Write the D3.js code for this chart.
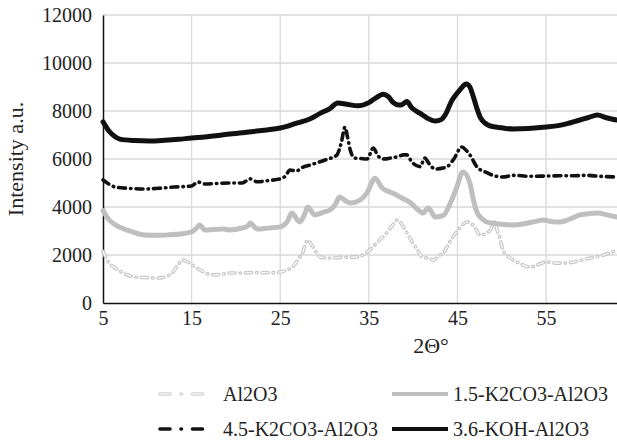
<!DOCTYPE html>
<html>
<head>
<meta charset="utf-8">
<script src="https://cdn.jsdelivr.net/npm/d3@7/dist/d3.min.js"></script>
<style>
  body { margin: 0; background: #fff; }
  text { font-family: "Liberation Serif", "Times New Roman", serif; fill: #222; }
</style>
</head>
<body>
<div id="chart"></div>
<script>
// Data (2θ in degrees, intensity in a.u.)
const xTicks = [5, 15, 25, 35, 45, 55];
const yTicks = [0, 2000, 4000, 6000, 8000, 10000, 12000];

const al2o3 = [
    [5, 2150], [5.6, 1710], [6.4, 1450], [7.3, 1250], [8.6, 1080], [9.8, 1060], [11.2, 1040], [12.1, 1100],
    [12.8, 1250], [13.4, 1550], [14.0, 1790], [14.6, 1700], [15.4, 1500], [16.3, 1300], [17.3, 1170],
    [18.5, 1200], [19.3, 1250], [20.7, 1250], [22.0, 1270], [23.5, 1260], [25, 1290], [25.8, 1380],
    [26.4, 1500], [27.0, 1800], [27.5, 2080], [28.1, 2625], [28.4, 2500], [28.7, 2330], [29.1, 2100],
    [29.5, 1920], [30.6, 1875], [31.8, 1900], [32.8, 1910], [33.7, 1920], [34.4, 2020], [35.1, 2210],
    [36.0, 2550], [37.1, 2960], [37.7, 3250], [38.2, 3460], [38.9, 3170], [39.4, 2850], [39.9, 2540],
    [40.5, 2200], [41.0, 1920], [41.9, 1850], [42.3, 1790], [43.0, 2000], [43.4, 2080], [44.2, 2600],
    [45.0, 3000], [46.1, 3375], [46.6, 3300], [47.0, 3125], [47.6, 2830], [48.2, 2900], [48.7, 3040],
    [49.2, 3375], [49.5, 3000], [49.8, 2710], [50.1, 2210], [50.7, 1950], [51.3, 1790], [52.2, 1620],
    [53.2, 1500], [54.1, 1600], [55.1, 1710], [56.2, 1660], [57.4, 1670], [58.7, 1760], [60.0, 1875],
    [61.5, 2000], [63, 2200]
];

const k2co3_15 = [
    [5, 3850], [5.6, 3500], [6.3, 3280], [7.1, 3125], [8.4, 2950], [9.7, 2830], [11.0, 2820],
    [12.4, 2840], [13.7, 2875], [15.0, 2960], [15.5, 3100], [15.9, 3250], [16.5, 3040], [17.5, 3060],
    [18.6, 3080], [19.3, 3040], [20.7, 3125], [21.3, 3200], [21.6, 3330], [22.4, 3080], [23.6, 3120],
    [25, 3170], [25.8, 3400], [26.3, 3750], [27.2, 3375], [27.7, 3650], [28.1, 4000], [28.9, 3670],
    [29.8, 3780], [30.6, 3875], [31.2, 4100], [31.7, 4420], [32.4, 4250], [32.9, 4170], [34.0, 4290],
    [34.8, 4600], [35.7, 5200], [36.5, 4790], [37.2, 4650], [37.7, 4580], [38.5, 4420], [39.1, 4300],
    [39.6, 4200], [40.5, 3900], [41.1, 3750], [41.7, 3960], [42.5, 3580], [43.4, 3650], [44.2, 4170],
    [44.9, 4800], [45.6, 5460], [46.4, 5000], [46.8, 4300], [47.2, 3790], [47.8, 3500], [48.3, 3375],
    [49.5, 3300], [51.3, 3250], [52.5, 3300], [53.6, 3380], [54.7, 3460], [55.5, 3400], [56.6, 3375],
    [57.7, 3500], [58.8, 3670], [59.8, 3720], [60.8, 3750], [62.0, 3660], [63, 3580]
];

const k2co3_45 = [
    [5, 5125], [5.7, 4950], [6.4, 4830], [7.8, 4780], [9.7, 4750], [11.3, 4780], [13.0, 4830],
    [15.0, 4875], [15.7, 5040], [16.5, 4960], [17.8, 4980], [19.3, 5000], [20.7, 5000], [21.6, 5170],
    [22.4, 5050], [23.6, 5100], [25, 5170], [25.6, 5300], [26.1, 5540], [26.8, 5500], [27.5, 5650],
    [28.4, 5750], [29.2, 5850], [30.0, 5950], [30.8, 6050], [31.4, 6170], [31.9, 6700], [32.3, 7330],
    [32.6, 6900], [32.9, 6375], [33.4, 6040], [34.1, 6020], [34.8, 6000], [35.5, 6460], [36.0, 6150],
    [36.6, 6000], [37.6, 6050], [38.3, 6100], [38.9, 6170], [39.3, 6170], [39.8, 5900], [40.8, 5680],
    [41.3, 6040], [41.8, 5800], [42.5, 5580], [43.3, 5620], [43.8, 5670], [44.5, 5950], [45.5, 6500],
    [46.0, 6350], [46.4, 6170], [47.2, 5670], [48.2, 5450], [49.0, 5320], [50.0, 5250], [51.5, 5320],
    [53.0, 5280], [55.0, 5290], [56.5, 5300], [58.0, 5300], [59.5, 5320], [61.0, 5280], [63, 5250]
];

const koh_36 = [
    [5, 7550], [5.6, 7200], [6.3, 6950], [6.9, 6830], [8.5, 6770], [10.3, 6750], [12.0, 6780],
    [13.5, 6820], [15.0, 6875], [16.5, 6920], [18.0, 6980], [19.3, 7040], [20.7, 7090], [22.0, 7150],
    [23.5, 7210], [25, 7290], [26.1, 7400], [27.2, 7530], [28.4, 7680], [29.5, 7900], [30.6, 8100],
    [31.5, 8330], [32.5, 8280], [33.8, 8220], [35.0, 8350], [35.8, 8550], [36.6, 8700], [37.2, 8600],
    [37.7, 8370], [38.4, 8250], [38.7, 8260], [39.3, 8400], [39.8, 8150], [40.8, 7900], [41.6, 7700],
    [42.5, 7580], [43.2, 7650], [43.6, 7830], [44.4, 8460], [45.2, 8850], [46.0, 9125], [46.4, 9000],
    [46.8, 8580], [47.2, 8100], [47.6, 7710], [48.1, 7500], [48.7, 7375], [50.0, 7300], [51.3, 7250],
    [53.0, 7270], [55.0, 7330], [56.8, 7420], [58.8, 7625], [59.8, 7730], [60.8, 7830], [61.8, 7720],
    [63, 7625]
];

const seriesNames = ["Al2O3", "1.5-K2CO3-Al2O3", "4.5-K2CO3-Al2O3", "3.6-KOH-Al2O3"];
const seriesData = [al2o3, k2co3_15, k2co3_45, koh_36];

// Line styles per series (same order as names)
const styles = [
    { color: "#c6c6c6", width: 3.6, dash: "6,5,0.5,5", hollow: true },
    { color: "#bfbfbf", width: 5, dash: null, hollow: false },
    { color: "#111", width: 3.6, dash: "7,5,0.5,5", hollow: false },
    { color: "#111", width: 5, dash: null, hollow: false }
];

const width = 617, height = 442;
const margin = { top: 15, right: 0, bottom: 139, left: 103 };

const svg = d3.select("#chart")
    .append("svg")
    .attr("width", width)
    .attr("height", height);

const x = d3.scaleLinear().domain([5, 63]).range([margin.left, width - margin.right]);
const y = d3.scaleLinear().domain([0, 12000]).range([height - margin.bottom, margin.top]);

// Grid lines
svg.append("g")
    .selectAll("line")
    .data(yTicks.filter(d => d > 0))
    .enter()
    .append("line")
    .attr("x1", x(5))
    .attr("x2", width)
    .attr("y1", d => y(d))
    .attr("y2", d => y(d))
    .attr("stroke", "#d9d9d9")
    .attr("stroke-width", 1.3);

svg.append("g")
    .selectAll("line")
    .data(xTicks.filter(d => d > 5))
    .enter()
    .append("line")
    .attr("x1", d => x(d))
    .attr("x2", d => x(d))
    .attr("y1", y(0))
    .attr("y2", y(12000))
    .attr("stroke", "#d9d9d9")
    .attr("stroke-width", 1.3);

// Axes
const xAxis = svg.append("g")
    .attr("transform", `translate(0,${y(0)})`)
    .call(d3.axisBottom(x).tickValues(xTicks).tickSize(0).tickPadding(8));
xAxis.select(".domain").attr("stroke", "#111").attr("stroke-width", 1.5);
xAxis.selectAll("text").style("font-size", "20px").attr("fill", "#222");

const yAxis = svg.append("g")
    .attr("transform", `translate(${x(5)},0)`)
    .call(d3.axisLeft(y).tickValues(yTicks).tickSize(0).tickPadding(11).tickFormat(d3.format("d")));
yAxis.select(".domain").attr("stroke", "#111").attr("stroke-width", 1.5);
yAxis.selectAll("text").style("font-size", "20px").attr("fill", "#222");

// Axis titles
svg.append("text")
    .attr("x", 431)
    .attr("y", 353)
    .attr("text-anchor", "middle")
    .style("font-size", "22px")
    .text("2Θ°");

svg.append("text")
    .attr("transform", `translate(23,${(y(0) + y(12000)) / 2}) rotate(-90)`)
    .attr("text-anchor", "middle")
    .style("font-size", "22px")
    .text("Intensity a.u.");

// Lines
const line = d3.line()
    .x(d => x(d[0]))
    .y(d => y(d[1]))
    .curve(d3.curveMonotoneX);

const plot = svg.append("g");

seriesData.forEach((data, i) => {
    const s = styles[i];
    plot.append("path")
        .datum(data)
        .attr("d", line)
        .attr("fill", "none")
        .attr("stroke", s.color)
        .attr("stroke-width", s.width)
        .attr("stroke-linecap", "round")
        .attr("stroke-linejoin", "round")
        .attr("stroke-dasharray", s.dash);
    if (s.hollow) {
        plot.append("path")
            .datum(data)
            .attr("d", line)
            .attr("fill", "none")
            .attr("stroke", "#fff")
            .attr("stroke-width", 1.2)
            .attr("stroke-linecap", "round")
            .attr("stroke-dasharray", s.dash);
    }
});

// Legend
const legendPos = [
    { x: 160, y: 394 }, { x: 392, y: 394 },
    { x: 160, y: 429 }, { x: 392, y: 429 }
];

seriesNames.forEach((name, i) => {
    const s = styles[i];
    const p = legendPos[i];
    const len = i % 2 === 0 ? 48 : 56;
    const dash = s.dash ? "10,11,0.5,11" : null;
    const g = svg.append("g");
    g.append("line")
        .attr("x1", p.x).attr("x2", p.x + len)
        .attr("y1", p.y).attr("y2", p.y)
        .attr("stroke", s.hollow ? "#d4d4d4" : s.color)
        .attr("stroke-width", s.hollow ? 3.6 : (s.dash ? 3.6 : 4))
        .attr("stroke-linecap", s.dash ? "round" : "butt")
        .attr("stroke-dasharray", dash);
    if (s.hollow) {
        g.append("line")
            .attr("x1", p.x).attr("x2", p.x + len)
            .attr("y1", p.y).attr("y2", p.y)
            .attr("stroke", "#fff")
            .attr("stroke-width", 1.2)
            .attr("stroke-linecap", "round")
            .attr("stroke-dasharray", dash);
    }
    g.append("text")
        .attr("x", p.x + len + (i % 2 === 0 ? 15 : 5))
        .attr("y", p.y)
        .attr("dy", "0.33em")
        .style("font-size", "20px")
        .text(name);
});
</script>
</body>
</html>
